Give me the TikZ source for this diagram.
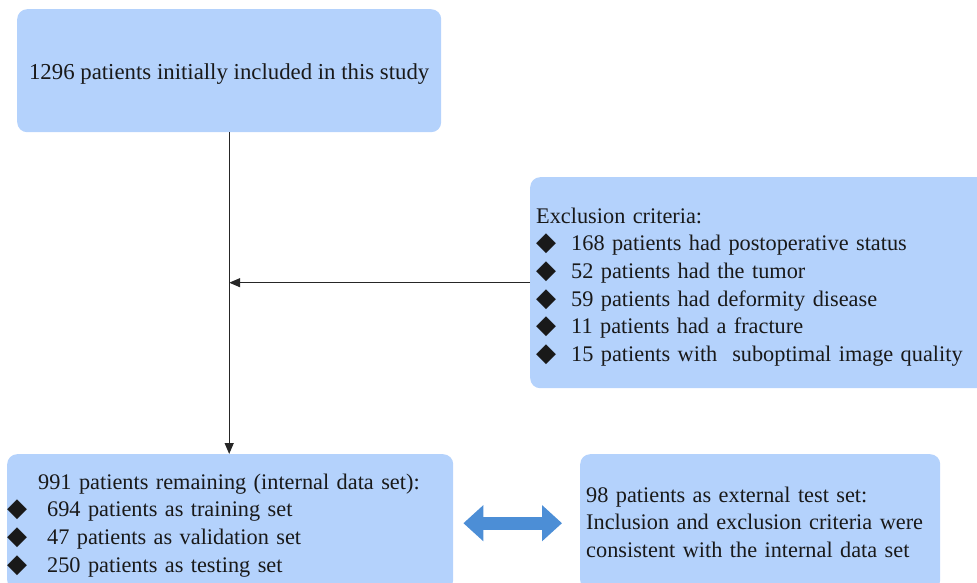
\documentclass[tikz,border=0pt]{standalone}
\usepackage{fontspec}
\setmainfont{Liberation Serif}
\newfontfamily\tnr{Liberation Serif}
\newfontfamily\dejavu{DejaVu Sans}
\usetikzlibrary{arrows.meta}
\definecolor{boxblue}{RGB}{180,210,252}
\definecolor{arrowblue}{RGB}{76,142,214}
\newcommand\dia{{\dejavu\fontsize{26}{26}\selectfont ◆}}
\begin{document}
\begin{tikzpicture}[x=1pt,y=-1pt,
 box/.style={fill=boxblue, rounded corners=10pt, inner ysep=0pt, font=\tnr\fontsize{22.3}{27.6}\selectfont, text=black!90},
 conn/.style={draw=black!85, line width=1.3pt, -{Triangle[length=11pt,width=9pt]}},
 dbl/.style={draw=arrowblue, line width=13pt, {Triangle[length=20pt,width=35pt]}-{Triangle[length=20pt,width=35pt]}}]
\useasboundingbox (0,0) rectangle (977,583);
\node[box, anchor=north west, minimum width=424pt, minimum height=123pt, font=\tnr\fontsize{22.8}{27.6}\selectfont] (init) at (17,9)
  {\rule{0pt}{22pt}1296 patients initially included in this study};
\node[box, anchor=north west, minimum height=211pt, text width=448pt, inner xsep=6pt, align=left] (excl) at (530,177)
  {\rule{0pt}{24pt}Exclusion criteria:\\
   \dia\hspace{15pt}168 patients had postoperative status\\
   \dia\hspace{15pt}52 patients had the tumor\\
   \dia\hspace{15pt}59 patients had deformity disease\\
   \dia\hspace{15pt}11 patients had a fracture\\
   \dia\hspace{15pt}15 patients with\ \ suboptimal image quality};
\node[box, anchor=north west, minimum height=136pt, text width=446pt, inner xsep=0pt, align=left] (rem) at (7,454)
  {\rule{0pt}{22pt}\hspace*{31pt}991 patients remaining (internal data set):\\
   \dia\hspace{20pt}694 patients as training set\\
   \dia\hspace{20pt}47 patients as validation set\\
   \dia\hspace{20pt}250 patients as testing set};
\node[box, anchor=north west, minimum height=136pt, text width=348pt, inner xsep=6pt, align=left] (ext) at (580,454)
  {98 patients as external test set:\\
   Inclusion and exclusion criteria were\\
   consistent with the internal data set};
\coordinate (join) at (init.south |- excl.west);
\draw[conn] (init.south) -- (init.south |- rem.north);
\draw[conn] (excl.west) -- (join);
\draw[dbl] ([xshift=10pt,yshift=-1pt]rem.east) -- ([xshift=-18pt,yshift=-1pt]ext.west);
\end{tikzpicture}
\end{document}
